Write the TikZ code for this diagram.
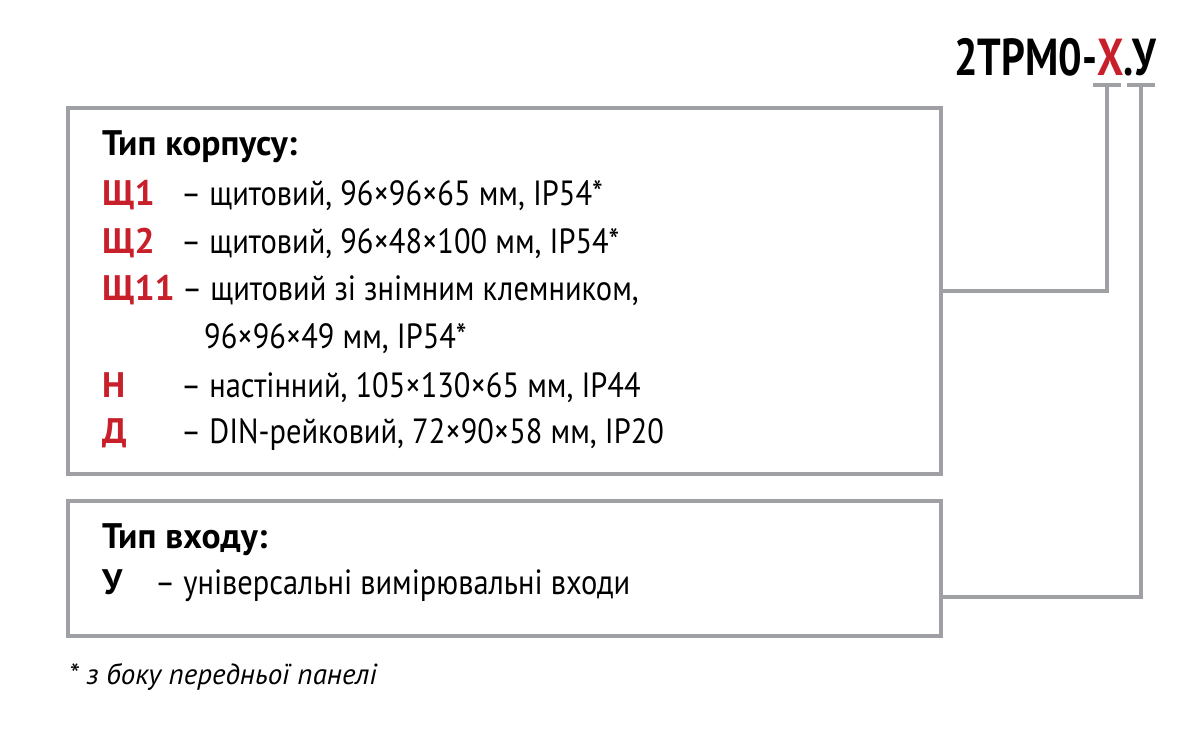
\documentclass[tikz,border=0pt]{standalone}
\usepackage{fontspec}
\setmainfont{PT Sans}
\newfontfamily\condfont{PT Sans}[FakeStretch=0.87]
\newfontfamily\titlefont{PT Sans}[FakeStretch=0.8]
\definecolor{lgray}{HTML}{9EA0A3}
\definecolor{ored}{HTML}{C8202B}
\begin{document}
\begin{tikzpicture}[x=1pt,y=-1pt,
  box/.style={draw=lgray,line width=4pt,rectangle,inner sep=0pt,anchor=north west},
  wire/.style={draw=lgray,line width=4pt},
  txt/.style={anchor=base west,inner sep=0pt,font=\condfont\fontsize{35}{40}\selectfont},
  hd/.style={anchor=base west,inner sep=0pt,font=\fontsize{35.5}{40}\selectfont\bfseries},
  code/.style={hd,text=ored}]
\useasboundingbox (0,0) rectangle (1200,745);
% title
\node[anchor=base east,inner sep=0pt,font=\titlefont\fontsize{52}{56}\selectfont\bfseries] (title) at (1156,75) {2ТРМ0-\textcolor{ored}{Х}.У};
% boxes
\node[box,minimum width=873pt,minimum height=366pt] (b1) at (66,106) {};
\node[box,minimum width=873pt,minimum height=135pt] (b2) at (66,499) {};
% connectors
\coordinate (t1l) at (1093,85); \coordinate (t1r) at (1121,85); \coordinate (t1) at (1107,85);
\coordinate (t2l) at (1127,85); \coordinate (t2r) at (1155,85); \coordinate (t2) at (1141,85);
\coordinate (k2) at (1141,597);
\draw[wire] (t1l) -- (t1r);
\draw[wire] (t2l) -- (t2r);
\draw[wire] (t1) |- (b1.east);
\draw[wire] (t2) -- (k2) -- (k2 -| b2.east);
% box 1 text
\node[hd] (h1) at (102,155) {Тип корпусу:};
\node[code] (c1) at (102,205) {Щ1};
\node[txt] (d1) at (181,205) {– щитовий, 96×96×65 мм, IP54*};
\node[code] (c2) at (102,253) {Щ2};
\node[txt] (d2) at (181,253) {– щитовий, 96×48×100 мм, IP54*};
\node[code] (c3) at (102,300) {Щ11};
\node[txt] (d3) at (182,300) {– щитовий зі знімним клемником,};
\node[txt] (d3b) at (204,348) {96×96×49 мм, IP54*};
\node[code] (c4) at (102,397) {Н};
\node[txt] (d4) at (181,397) {– настінний, 105×130×65 мм, IP44};
\node[code] (c5) at (102,443) {Д};
\node[txt] (d5) at (181,443) {– DIN-рейковий, 72×90×58 мм, IP20};
% box 2 text
\node[hd] (h2) at (102,548) {Тип входу:};
\node[hd] (c6) at (102,594) {У};
\node[txt] (d6) at (155,594) {– універсальні вимірювальні входи};
% footnote
\node[anchor=base west,inner sep=0pt,font=\fontsize{29}{32}\selectfont\itshape] (fn) at (69,684) {* з боку передньої панелі};
\end{tikzpicture}
\end{document}
